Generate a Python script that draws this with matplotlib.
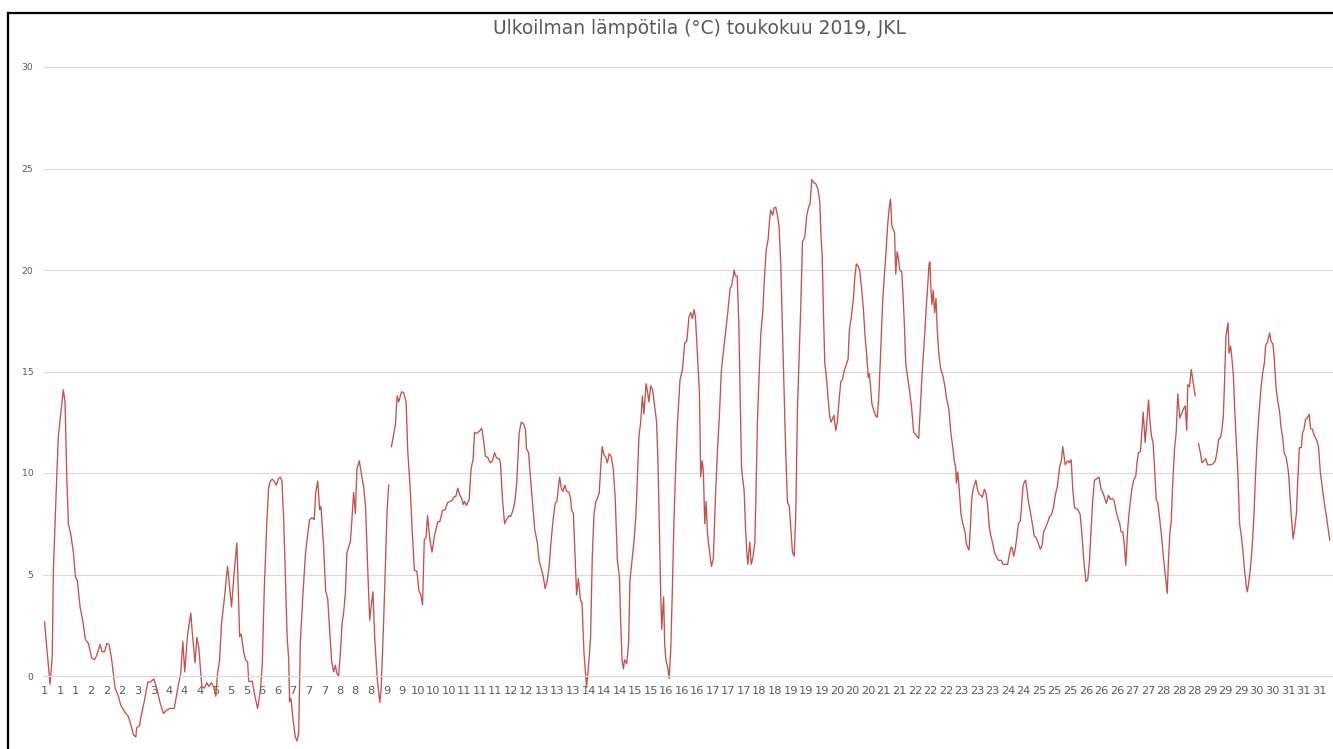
import numpy as np
import matplotlib
matplotlib.use("Agg")
import matplotlib.pyplot as plt
from matplotlib.lines import Line2D

title = "Ulkoilman lämpötila (°C) toukokuu 2019, JKL"

# hour index within May 2019 (0 = 1 May 00:00) and outdoor temperature (°C)
hours = [
    0.0, 3.2, 4.5, 5.1, 6.6, 8.0, 9.4, 10.1, 10.9, 11.9, 12.9, 13.8, 15.2, 16.7, 17.9, 19.0, 20.6, 22.1, 23.7,
    25.4, 27.3, 28.9, 30.2, 32.2, 33.3, 34.9, 36.0, 37.4, 38.9, 40.9, 42.8, 44.2, 46.7, 48.6, 50.0, 51.5,
    52.9, 53.4, 55.0, 55.9, 57.9, 59.8, 61.2, 63.3, 65.0, 67.0, 68.9, 70.4, 72.4,
    75.1, 77.5, 78.9, 80.1, 81.2, 82.8, 84.7, 85.9, 87.2, 88.2, 89.3, 91.1, 92.5, 94.0, 95.2, 96.5, 97.9,
    99.2, 100.2, 101.4, 102.5, 104.0, 106.0, 108.3, 109.9, 111.4, 113.0, 113.9, 115.3, 116.4, 117.6, 118.3,
    120.3, 121.5, 123.4, 125.0, 126.1, 127.3, 128.8, 129.8, 130.8, 131.8, 133.0, 134.2, 135.4, 136.5, 137.5,
    138.5, 140.5, 141.4, 141.9, 142.7, 143.9, 145.2, 146.2, 147.2, 148.1, 149.7, 151.0, 152.4, 153.5, 154.9,
    156.2, 157.0, 158.2, 159.3, 160.1, 161.6, 162.8, 164.0, 165.1, 166.3, 167.4, 168.4, 169.4, 170.3, 171.3,
    172.3, 173.2, 174.2, 175.1, 176.3, 177.1, 178.0, 179.0, 180.0, 180.9, 182.3, 183.4, 184.8, 185.9, 187.1,
    188.3, 189.1, 190.2, 191.2, 192.6, 194.1, 194.9, 196.4, 197.4, 198.4, 199.3, 200.1, 200.9, 203.2, 204.2,
    205.1, 206.7, 208.0, 209.4, 210.3, 211.9, 213.0, 214.2, 215.6, 216.8, 217.9, 218.9, 219.9, 220.9, 221.8,
    223.0, 224.4, 225.8, 227.7, 228.9, 230.4, 232.0, 233.5, 236.0, 237.4, 238.2, 239.3, 240.5, 241.6, 242.4,
    243.2, 244.3, 245.9, 247.0, 248.2, 249.0, 250.1, 251.7, 253.2, 254.4, 255.3, 256.7, 258.2, 259.4, 260.6,
    261.7, 263.3, 264.0, 265.2, 266.4, 267.5, 268.9, 269.9, 271.0, 272.2, 273.3, 274.1, 274.9, 276.0, 277.2,
    278.5, 279.1, 280.3, 281.4, 282.6, 283.9, 285.3, 286.4, 287.6, 288.8, 289.9, 291.1, 292.2, 293.4, 294.5,
    295.7, 296.7, 297.6, 298.3, 299.2, 300.2, 301.4, 302.3, 303.7, 304.6, 305.2, 306.2, 307.0, 308.1, 309.1,
    310.4, 311.2, 312.4, 313.9, 315.3, 316.2, 317.2, 318.2, 319.3, 320.1, 321.2, 322.0, 322.9, 323.9, 324.9,
    325.9, 327.0, 328.2, 329.4, 330.5, 331.7, 332.9, 333.6, 334.4, 335.2, 335.9, 337.1, 338.2, 339.0, 340.2,
    341.4, 342.5, 343.7, 344.2, 345.2, 346.2, 347.1, 348.3, 349.0, 350.0, 351.0, 352.1, 353.3, 354.4, 355.2,
    356.0, 356.8, 357.4, 357.9, 358.5, 359.1, 359.8, 361.0, 361.7, 362.6, 363.5, 364.5, 365.5, 366.4, 368.0,
    369.4, 370.7, 371.9, 373.2, 374.2, 375.2, 376.1, 376.9, 378.1, 379.2, 380.0, 380.8, 381.5, 382.3, 383.1,
    383.8, 385.0, 386.2, 387.3, 388.5, 389.6, 390.8, 391.9, 393.1, 394.3, 395.4, 397.0, 397.8, 398.6, 399.3,
    400.1, 401.1, 402.0, 402.8, 403.6, 404.3, 405.1, 405.9, 406.6, 407.2, 408.4, 409.2, 410.1, 411.3, 412.1,
    412.8, 413.8, 414.8, 415.9, 416.7, 417.9, 419.0, 419.8, 420.5, 421.7, 422.4, 423.4, 424.4, 425.4, 426.3,
    427.3, 428.3, 429.2, 430.2, 431.2, 432.1, 433.1, 434.1, 435.0, 436.0, 437.0, 437.9, 438.9, 440.2, 441.4,
    442.6, 443.3, 444.3, 445.4, 446.6, 447.8, 448.9, 449.7, 450.3, 451.1, 451.8, 453.0, 453.8, 454.6, 455.4,
    456.2, 457.1, 458.1, 459.1, 460.1, 461.1, 462.0, 463.0, 464.1, 465.3, 466.0, 467.2, 468.4, 469.1, 470.1,
    471.1, 472.0, 473.0, 474.2, 475.1, 476.1, 477.0, 477.6, 478.4, 479.1, 480.3, 481.4, 482.2, 483.1, 484.1,
    485.3, 486.0, 487.2, 488.3, 489.1, 489.9, 490.6, 491.4, 492.2, 492.9, 493.7, 494.5, 495.2, 496.4, 497.1,
    497.9, 498.7, 499.8, 501.0, 502.1, 503.3, 504.5, 505.2, 506.2, 507.1, 508.3, 509.5, 510.6, 511.4, 512.2,
    512.7, 513.3, 513.9, 514.6, 515.4, 516.2, 516.9, 517.9, 519.0, 520.2, 521.3, 522.5, 523.6, 524.9, 525.9,
    526.8, 527.6, 528.0, 528.8, 529.7, 530.7, 531.8, 533.0, 533.7, 534.5, 535.3, 536.0, 536.8, 537.6, 538.4,
    539.3, 540.3, 541.2, 542.2, 543.0, 544.2, 545.3, 546.1, 547.1, 548.0, 549.0, 550.0, 551.1, 552.3, 553.9,
    555.0, 556.8, 557.7, 558.7, 559.7, 560.4, 561.2, 562.0, 563.1, 563.9, 565.0, 565.8, 566.6, 567.3, 568.1,
    568.9, 569.7, 570.8, 572.0, 573.1, 574.3, 575.4, 576.6, 577.7, 578.5, 579.6, 580.8, 581.9, 583.1, 584.2,
    585.4, 586.5, 587.7, 588.8, 589.6, 590.4, 591.1, 591.9, 592.7, 593.4, 594.5, 595.4, 596.4, 598.4, 599.7,
    600.7, 601.6, 603.0, 604.1, 605.1, 606.1, 607.0, 608.0, 609.1, 610.6, 611.8, 613.0, 614.1, 614.9, 616.0,
    617.2, 618.4, 619.5, 620.5, 621.5, 622.6, 623.4, 624.4, 625.3, 626.1, 627.3, 628.4, 629.6, 630.7, 631.9,
    632.6, 633.4, 634.6, 635.4, 636.2, 637.3, 638.5, 639.3, 640.0, 641.0, 641.9, 642.7, 643.7, 644.7, 645.8,
    647.0, 648.1, 649.3, 650.1, 650.8, 651.6, 652.4, 653.3, 654.3, 655.3, 656.2, 657.4, 658.5, 659.7, 660.5,
    661.4, 662.0, 663.0, 664.0, 664.9, 666.3, 667.2, 668.2, 669.3, 670.2, 671.2, 672.4, 673.5, 675.3, 676.6,
    678.0, 679.1, 679.9, 681.0, 681.8, 682.6, 683.4, 684.1, 685.3, 685.9, 686.8, 687.6, 688.4, 689.2, 690.1,
    691.1, 692.0, 693.0, 693.9, 694.9, 695.9, 696.5, 697.2, 698.4, 699.3, 700.3, 701.2, 702.2, 703.3, 704.5,
    705.4, 706.4, 707.1, 708.2, 709.4, 710.2, 711.3, 712.1, 713.1, 714.0, 715.2, 715.9, 716.9, 717.8, 719.0,
    719.8, 720.5, 721.3, 722.1, 723.0, 724.0, 724.9, 725.7, 726.6, 727.7, 728.5, 729.3, 730.2, 731.2, 732.3,
    733.1, 734.2, 735.4, 736.5, 737.7, 738.8, 740.0, 741.1, 742.3, 743.4, 744.2,
]

nan = float("nan")
temps = [
    2.67, -0.41, 0.94, 5.06, 8.7, 11.8, 12.9, 13.4, 14.1, 13.5, 9.8, 7.5, 7.0, 6.1, 4.9, 4.7, 3.4, 2.75, 1.8,
    1.6, 0.9, 0.8, 1.0, 1.55, 1.2, 1.2, 1.6, 1.55, 0.8, -0.6, -1.0, -1.45, -1.8, -2.0, -2.4, -2.9,
    -3.0, -2.55, -2.45, -2.0, -1.2, -0.3, -0.3, -0.15, -0.6, -1.35, -1.85, -1.7, -1.6,
    -1.6, -0.44, 0.13, 1.7, 0.2, 2.0, 3.1, 1.8, 0.66, 1.9, 1.44, -0.52, -0.6, -0.33, -0.52, -0.33, -0.52,
    -1.0, 0.13, 0.8, 2.6, 3.7, 5.4, 3.4, 5.2, 6.56, 1.93, 2.07, 1.2, 0.8, 0.7, -0.28,
    -0.25, -0.85, -1.6, -0.7, 0.6, 4.4, 7.7, 9.3, 9.6, 9.7, 9.6, 9.4, 9.7, 9.8, 9.6,
    7.7, 1.93, 0.8, -1.26, -1.1, -2.16, -3.0, -3.2, -2.8, 1.6, 4.1, 5.9, 7.0, 7.7, 7.8,
    7.7, 9.0, 9.6, 8.2, 8.35, 6.4, 4.2, 3.8, 2.25, 0.7, 0.2, 0.53, 0.1, 0.0, 1.1,
    2.6, 3.1, 4.07, 6.05, 6.4, 6.6, 7.7, 9.05, 8.0, 10.2, 10.6, 10.0, 9.3, 8.35, 5.4,
    2.75, 3.4, 4.15, 1.9, -0.05, -1.3, -0.7, 2.75, 5.55, 8.2, 9.4, nan, 11.3, 12.4, 13.8,
    13.5, 14.0, 13.95, 13.5, 11.15, 9.0, 7.0, 5.2, 5.17, 4.2, 4.0, 3.5, 6.7, 6.8, 7.9,
    6.8, 6.1, 6.9, 7.6, 7.6, 8.15, 8.2, 8.55, 8.65, 8.85, 8.85, 9.25, 8.9, 8.75, 8.45,
    8.6, 8.4, 8.7, 10.2, 10.7, 12.0, 11.95, 12.05, 12.2, 11.5, 10.85, 10.75, 10.5, 10.6, 11.0,
    10.75, 10.7, 10.5, 8.7, 7.5, 7.7, 7.9, 7.85, 8.1, 8.5, 9.35, 10.65, 12.0, 12.5, 12.45,
    12.15, 11.2, 11.0, 9.75, 8.5, 7.2, 6.6, 5.7, 5.3, 4.9, 4.3, 4.7, 5.4, 6.7, 7.7,
    8.5, 8.6, 9.35, 9.8, 9.25, 9.1, 9.4, 9.1, 9.05, 8.75, 8.2, 8.0, 6.4, 4.0, 4.8,
    3.7, 3.65, 1.1, -0.55, 0.8, 1.9, 5.9, 8.0, 8.6, 8.75, 9.0, 10.2, 11.3, 10.9, 10.8,
    10.5, 10.95, 10.8, 10.15, 8.7, 5.7, 4.9, 2.75, 0.8, 0.36, 0.8, 0.6, 1.6, 4.7, 5.7,
    6.7, 8.0, 10.65, 11.8, 12.5, 13.8, 12.9, 14.4, 14.1, 13.5, 14.3, 14.1, 13.3, 12.55, 10.65,
    7.35, 4.1, 2.3, 3.1, 3.9, 1.6, 0.8, 0.36, -0.13, 1.27, 4.07, 7.7, 10.3, 12.3, 14.6,
    15.1, 16.4, 16.5, 17.7, 17.9, 17.6, 18.05, 17.7, 15.8, 14.0, 9.8, 10.6, 10.1, 7.5, 8.6,
    7.1, 6.2, 5.4, 5.8, 8.8, 11.0, 12.85, 15.0, 16.0, 16.9, 17.7, 19.1, 19.2, 19.6, 20.0,
    19.7, 19.7, 17.5, 14.0, 10.3, 9.7, 9.15, 7.3, 6.2, 5.5, 6.6, 5.5, 5.8, 6.55, 9.5,
    12.5, 14.9, 16.9, 17.9, 19.35, 21.0, 21.5, 22.4, 22.95, 22.7, 23.05, 23.1, 22.7, 22.1, 20.3,
    17.1, 14.0, 11.0, 8.55, 8.4, 7.3, 6.1, 5.9, 8.0, 13.2, 15.8, 18.2, 21.4, 21.6, 22.7,
    23.15, 23.25, 24.45, 24.3, 24.25, 24.0, 23.4, 21.5, 20.8, 17.7, 15.45, 14.5, 13.6, 12.85, 12.5,
    12.65, 12.85, 12.1, 12.5, 13.6, 14.5, 14.6, 15.0, 15.3, 15.6, 17.0, 17.7, 18.6, 19.55, 20.3,
    20.2, 20.0, 19.2, 18.05, 16.75, 15.8, 14.7, 14.9, 14.15, 13.4, 13.05, 12.8, 12.75, 13.8, 15.8,
    18.4, 19.35, 20.8, 22.3, 23.05, 23.5, 22.2, 22.0, 21.85, 19.8, 20.9, 20.55, 20.0, 19.9, 18.8,
    17.3, 15.35, 14.7, 14.0, 13.2, 12.0, 11.9, 11.8, 11.7, 13.2, 15.1, 16.6, 18.2, 19.2, 20.3,
    20.4, 19.0, 18.3, 19.0, 17.9, 18.6, 17.1, 15.8, 15.1, 14.8, 14.3, 13.6, 13.2, 11.9, 11.3,
    10.6, 10.25, 9.5, 10.05, 9.15, 7.95, 7.5, 7.1, 6.55, 6.35, 6.2, 7.1, 8.6, 9.15, 9.4,
    9.65, 9.15, 8.95, 8.9, 8.8, 9.2, 8.95, 8.4, 7.3, 6.9, 6.55, 6.1, 5.9, 5.7, 5.7,
    5.5, 5.5, 5.5, 6.0, 6.35, 6.3, 5.9, 6.2, 6.9, 7.5, 7.65, 8.4, 9.35, 9.55, 9.65,
    9.15, 8.6, 8.1, 7.5, 6.9, 6.8, 6.55, 6.25, 6.45, 7.1, 7.3, 7.55, 7.85, 7.95, 8.3,
    8.95, 9.35, 10.25, 10.6, 11.3, 10.8, 10.4, 10.55, 10.6, 10.5, 10.65, 9.2, 8.3, 8.2, 7.95,
    7.0, 5.9, 4.65, 4.75, 5.7, 7.35, 8.7, 9.65, 9.7, 9.8, 9.2, 9.0, 8.7, 8.5, 8.9,
    8.7, 8.75, 8.6, 8.1, 7.8, 7.5, 7.1, 7.1, 6.4, 5.45, 7.35, 8.35, 9.2, 9.65, 9.85,
    10.5, 11.0, 11.05, 12.0, 13.0, 11.5, 12.8, 13.6, 12.65, 11.8, 11.5, 10.35, 8.7, 8.5, 7.7,
    6.7, 5.7, 4.7, 4.07, 5.7, 7.0, 7.6, 9.5, 11.15, 12.0, 13.9, 12.7, 12.95, 13.2, 13.3,
    12.1, 14.35, 14.25, 15.1, 14.6, 13.8, nan, 11.45, 11.0, 10.5, 10.6, 10.7, 10.4, 10.4, 10.45,
    10.6, 11.15, 11.65, 11.75, 12.15, 12.8, 14.8, 16.75, 17.4, 15.9, 16.25, 15.6, 14.8, 13.1, 11.5,
    9.85, 7.5, 6.9, 6.2, 5.2, 4.4, 4.15, 4.55, 5.4, 6.4, 7.85, 9.85, 11.65, 13.0, 14.3,
    14.95, 15.45, 16.3, 16.45, 16.9, 16.5, 16.35, 15.6, 14.2, 13.6, 13.0, 12.3, 11.8, 11.0, 10.75,
    10.35, 9.85, 8.7, 7.7, 6.75, 7.35, 8.0, 9.65, 11.25, 11.25, 12.0, 12.15, 12.65, 12.7, 12.9,
    12.2, 12.15, 11.8, 11.65, 11.3, 10.0, 9.2, 8.5, 7.85, 7.2, 6.7,
]

# category-axis labels: every 9th hourly point, labelled with the day of month
label_step = 9
n_points = 744
tick_hours = list(range(0, n_points, label_step))
tick_labels = [str(h // 24 + 1) for h in tick_hours]
y_ticks = [0, 5, 10, 15, 20, 25, 30]

W, H = 1333, 749
fig = plt.figure(figsize=(W / 100, H / 100), dpi=100)

# plot area: top at y=30 gridline (px 67), bottom at -5 (below the cropped picture)
px_top, px_zero, px_per_deg = 67.0, 676.0, 20.3
px_bottom = px_zero + 5 * px_per_deg
ax_left, ax_right = 43.0, 1333.0
ax = fig.add_axes([ax_left / W, (H - px_bottom) / H, (ax_right - ax_left) / W, (px_bottom - px_top) / H])

x0_px, px_per_hour = 44.5, 1.727
ax.set_xlim((ax_left - x0_px) / px_per_hour, (ax_right - x0_px) / px_per_hour)
ax.set_ylim(-5, 30)

ax.plot(hours, temps, color="#C4514E", lw=0.95, solid_joinstyle="round")

ax.set_yticks(y_ticks)
ax.yaxis.grid(True, color="#d9d9d9", lw=0.8)
ax.set_axisbelow(True)
for s in ("top", "right", "left"):
    ax.spines[s].set_visible(False)
ax.spines["bottom"].set_position(("data", 0))
ax.spines["bottom"].set_color("#d9d9d9")
ax.spines["bottom"].set_linewidth(0.8)

ax.set_xticks(tick_hours)
ax.set_xticklabels(tick_labels)
ax.tick_params(axis="x", length=0, pad=7, labelsize=8.2, labelcolor="#595959")
ax.tick_params(axis="y", length=0, pad=7, labelsize=6.7, labelcolor="#595959")

fig.text(699 / W, 1 - 28 / H, title, ha="center", va="center", fontsize=13.4, color="#595959")

# chart-area border (top and left edges visible in the cropped screenshot)
yb = 1 - 13 / H
xb = 8 / W
fig.add_artist(Line2D([xb, 1.0], [yb, yb], color="black", lw=1.6, transform=fig.transFigure))
fig.add_artist(Line2D([xb, xb], [yb, 0.0], color="black", lw=1.6, transform=fig.transFigure))

fig.savefig("out.png", dpi=100)
